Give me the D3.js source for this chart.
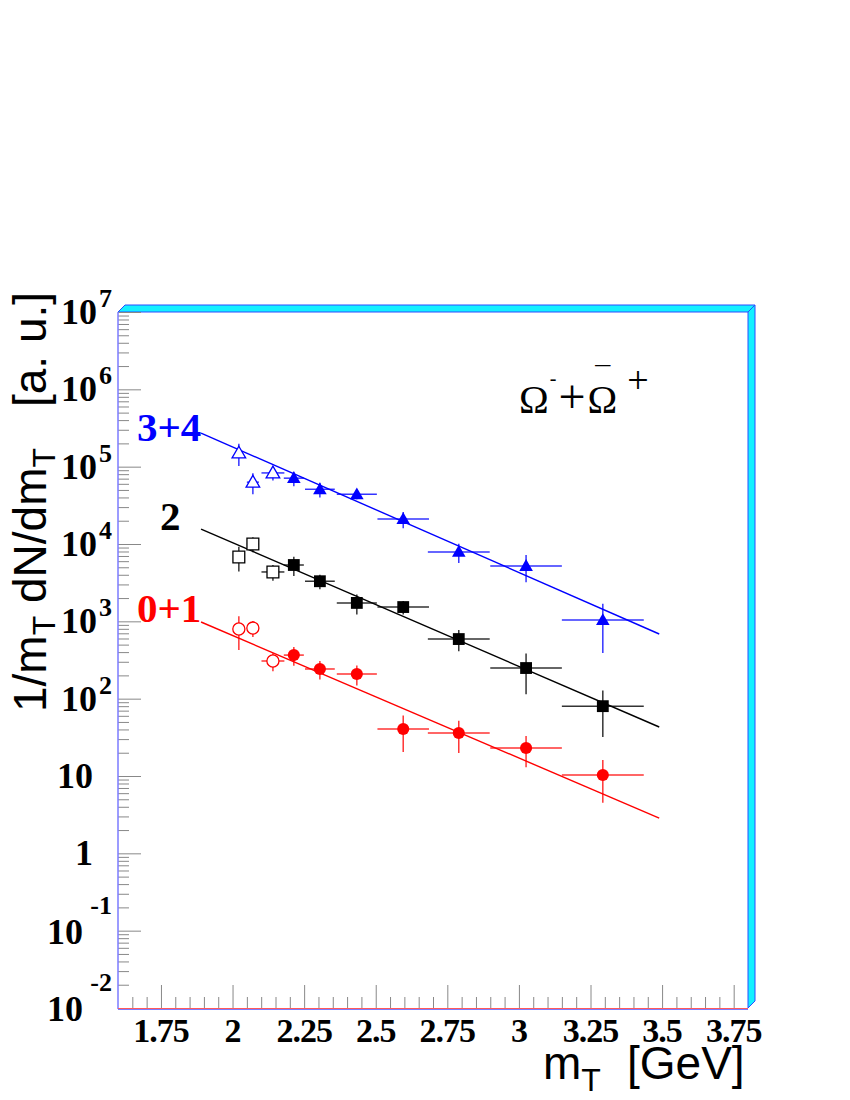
<!DOCTYPE html>
<html>
<head>
<meta charset="utf-8">
<script src="https://cdn.jsdelivr.net/npm/d3@7"></script>
<style>
  html, body { margin: 0; padding: 0; background: #fff; }
  svg { display: block; }
</style>
</head>
<body>
<svg id="chart" width="850" height="1100"></svg>
<script>
// mT bin centres and half widths [GeV]
const mT = [2.022, 2.071, 2.141, 2.214, 2.305, 2.434, 2.596, 2.790, 3.025, 3.293];
const mTErr = [0.012, 0.021, 0.04, 0.035, 0.052, 0.07, 0.09, 0.108, 0.125, 0.143];

// 1/mT dN/dmT for the three centrality classes
const cent34 = [1.50e5, 6.3e4, 8.3e4, 7.1e4, 5.1e4, 4.4e4, 2.1e4, 7.9e3, 5.2e3, 1.04e3];
const cent34Err = [4.8e4, 1.9e4, 1.7e4, 1.5e4, 1.1e4, 6e3, 5e3, 2.2e3, 2.0e3, 650];
const cent2 = [6.8e3, 1.0e4, 4.35e3, 5.35e3, 3.3e3, 1.73e3, 1.53e3, 590, 249, 80];
const cent2Err = [2.4e3, 2.2e3, 1.0e3, 1.5e3, 700, 500, 300, 180, 135, 48];
const cent01 = [796, 819, 307, 366, 242, 208, 40.5, 35.9, 23, 10.3];
const cent01Err = [370, 190, 80, 100, 65, 60, 20, 16, 10, 5.8];

// first three points are drawn with open markers
const openCount = 3;

// exponential fits, drawn as straight lines on the log scale
const fitRange = [1.89, 3.49];
const fit34 = [2.72e5, 686];
const fit2 = [1.56e4, 43];
const fit01 = [980, 2.86];

// axis ticks
const xMajor = [1.75, 2, 2.25, 2.5, 2.75, 3, 3.25, 3.5, 3.75];
const xMajorLabels = ['1.75', '2', '2.25', '2.5', '2.75', '3', '3.25', '3.5', '3.75'];
const yExponents = [-2, -1, 0, 1, 2, 3, 4, 5, 6, 7];

const series = [
    { name: '3+4', values: cent34, errors: cent34Err, fit: fit34, color: '#0000ff', symbol: d3.symbolTriangle, size: 80, labelX: 137, labelY: 441 },
    { name: '2', values: cent2, errors: cent2Err, fit: fit2, color: '#000000', symbol: d3.symbolSquare, size: 140, labelX: 160, labelY: 530 },
    { name: '0+1', values: cent01, errors: cent01Err, fit: fit01, color: '#ff0000', symbol: d3.symbolCircle, size: 115, labelX: 137, labelY: 622 }
];

const svg = d3.select('#chart');

// frame edges in pixels
const frameL = 118, frameR = 748, frameT = 312, frameB = 1008, depth = 7;

const x = d3.scaleLinear().domain([1.6, 3.8]).range([frameL, frameR]);
const y = d3.scaleLog().domain([1e-2, 1e7]).range([frameB, frameT]);

const serif = "'Liberation Serif', 'Times New Roman', serif";
const sans = "'Liberation Sans', Arial, Helvetica, sans-serif";

// 3D looking frame border (top and right)
svg.append('polygon')
    .attr('points', [[frameL, frameT], [frameL + depth, frameT - depth], [frameR + depth, frameT - depth], [frameR, frameT]].join(' '))
    .attr('fill', '#14f0ff')
    .attr('stroke', '#2a4dff')
    .attr('stroke-width', 1);
svg.append('polygon')
    .attr('points', [[frameR, frameT], [frameR + depth, frameT - depth], [frameR + depth, frameB - depth], [frameR, frameB]].join(' '))
    .attr('fill', '#14f0ff')
    .attr('stroke', '#2a4dff')
    .attr('stroke-width', 1);

// x ticks (pointing into the frame)
const xMinor = d3.range(1.65, 3.8, 0.05).filter(v => !xMajor.some(m => Math.abs(m - v) < 1e-6));
svg.append('g')
    .attr('transform', `translate(0,${frameB})`)
    .call(d3.axisBottom(x).tickValues(xMinor).tickSize(-11).tickFormat(''))
    .call(g => g.select('.domain').remove())
    .call(g => g.selectAll('line').attr('stroke', '#888'));
svg.append('g')
    .attr('transform', `translate(0,${frameB})`)
    .call(d3.axisBottom(x).tickValues(xMajor).tickSize(-23).tickFormat(''))
    .call(g => g.select('.domain').remove())
    .call(g => g.selectAll('line').attr('stroke', '#888'));

// y ticks
const yMinor = [];
yExponents.slice(0, -1).forEach(e => {
    for (let k = 2; k <= 9; k++) yMinor.push(k * Math.pow(10, e));
});
svg.append('g')
    .attr('transform', `translate(${frameL},0)`)
    .call(d3.axisLeft(y).tickValues(yMinor).tickSize(-11).tickFormat(''))
    .call(g => g.select('.domain').remove())
    .call(g => g.selectAll('line').attr('stroke', '#888'));
svg.append('g')
    .attr('transform', `translate(${frameL},0)`)
    .call(d3.axisLeft(y).tickValues(yExponents.map(e => Math.pow(10, e))).tickSize(-23).tickFormat(''))
    .call(g => g.select('.domain').remove())
    .call(g => g.selectAll('line').attr('stroke', '#888'));

// frame lines
svg.append('line').attr('x1', frameL).attr('x2', frameL).attr('y1', frameT).attr('y2', frameB + 1)
    .attr('stroke', '#7b7bff').attr('stroke-width', 1.5);
svg.append('line').attr('x1', frameL).attr('x2', frameR).attr('y1', frameB + 1.5).attr('y2', frameB + 1.5)
    .attr('stroke', '#7b7bff').attr('stroke-width', 1);
svg.append('line').attr('x1', frameL).attr('x2', frameR).attr('y1', frameB + 0.5).attr('y2', frameB + 0.5)
    .attr('stroke', '#ff5a5a').attr('stroke-width', 1);

// x tick labels
svg.append('g')
    .selectAll('text')
    .data(xMajor)
    .join('text')
    .attr('x', d => x(d))
    .attr('y', 1042)
    .attr('text-anchor', 'middle')
    .attr('font-family', serif)
    .attr('font-weight', 'bold')
    .attr('font-size', 34)
    .attr('letter-spacing', -1)
    .text((d, i) => xMajorLabels[i]);

// y tick labels, ROOT style 10^n
const yLab = svg.append('g')
    .attr('font-family', serif)
    .attr('font-weight', 'bold')
    .attr('fill', '#000');
yExponents.forEach(e => {
    const ty = y(Math.pow(10, e));
    if (e === 0 || e === 1) {
        yLab.append('text')
            .attr('x', 93).attr('y', ty + 12)
            .attr('text-anchor', 'end')
            .attr('font-size', 36)
            .text(e === 0 ? '1' : '10');
    } else if (e > 1) {
        yLab.append('text')
            .attr('x', 97).attr('y', ty + 12)
            .attr('text-anchor', 'end')
            .attr('font-size', 36)
            .text('10');
        yLab.append('text')
            .attr('x', 99).attr('y', ty - 5)
            .attr('font-size', 26)
            .text(e);
    } else {
        yLab.append('text')
            .attr('x', 83).attr('y', ty + 13)
            .attr('text-anchor', 'end')
            .attr('font-size', 36)
            .text('10');
        yLab.append('text')
            .attr('x', 112).attr('y', ty - 17)
            .attr('text-anchor', 'end')
            .attr('font-size', 26)
            .text(e);
    }
});

// fit lines
const line = d3.line()
    .x(d => x(d[0]))
    .y(d => y(d[1]));
series.forEach(s => {
    svg.append('path')
        .datum(fitRange.map((m, i) => [m, s.fit[i]]))
        .attr('d', line)
        .attr('fill', 'none')
        .attr('stroke', s.color)
        .attr('stroke-width', 1.4);
});

// data points with error bars
series.forEach(s => {
    const pts = s.values.map((v, i) => ({ m: mT[i], dm: mTErr[i], v: v, dv: s.errors[i], open: i < openCount }));
    const g = svg.append('g');

    g.selectAll('line.ex')
        .data(pts)
        .join('line')
        .attr('class', 'ex')
        .attr('x1', d => x(d.m - d.dm))
        .attr('x2', d => x(d.m + d.dm))
        .attr('y1', d => y(d.v))
        .attr('y2', d => y(d.v))
        .attr('stroke', s.color)
        .attr('stroke-opacity', 0.8)
        .attr('stroke-width', 1.5);

    g.selectAll('line.ey')
        .data(pts)
        .join('line')
        .attr('class', 'ey')
        .attr('x1', d => x(d.m))
        .attr('x2', d => x(d.m))
        .attr('y1', d => y(d.v - d.dv))
        .attr('y2', d => y(d.v + d.dv))
        .attr('stroke', s.color)
        .attr('stroke-opacity', 0.8)
        .attr('stroke-width', 1.5);

    g.selectAll('path.mk')
        .data(pts)
        .join('path')
        .attr('class', 'mk')
        .attr('transform', d => `translate(${x(d.m)},${y(d.v) + (s.symbol === d3.symbolTriangle ? 1 : 0)})`)
        .attr('d', d3.symbol().type(s.symbol).size(s.size))
        .attr('fill', d => d.open ? '#fff' : s.color)
        .attr('stroke', s.color)
        .attr('stroke-width', d => d.open ? 1.3 : 0);

    // centrality label
    svg.append('text')
        .attr('x', s.labelX)
        .attr('y', s.labelY)
        .attr('font-family', serif)
        .attr('font-weight', 'bold')
        .attr('font-size', 41)
        .attr('fill', s.color)
        .text(s.name);
});

// particle label: Omega^- + anti-Omega^+ (bar drawn as a macron over the second Omega)
const part = svg.append('text')
    .attr('x', 519)
    .attr('y', 413)
    .attr('font-family', serif)
    .attr('font-size', 40)
    .attr('fill', '#000');
part.append('tspan').text('\u03A9');
part.append('tspan').attr('font-size', 20).attr('dx', 1).attr('dy', -28).text('-');
part.append('tspan').attr('font-size', 48).attr('dx', 2).attr('dy', 28).text('+');
part.append('tspan').attr('dx', 2).text('\u03A9');
part.append('tspan').attr('font-size', 30).attr('dx', -22).attr('dy', -26).text('\u00AF');
part.append('tspan').attr('font-size', 38).attr('dx', 17).attr('dy', 6).text('+');

// axis titles
const xTitle = svg.append('text')
    .attr('x', 543)
    .attr('y', 1079)
    .attr('font-family', sans)
    .attr('font-size', 46);
xTitle.append('tspan').text('m');
xTitle.append('tspan').attr('font-size', 32).attr('dy', 12).text('T');
xTitle.append('tspan').attr('x', 627).attr('dy', -12).text('[GeV]');

const yTitle = svg.append('text')
    .attr('transform', 'translate(46,712) rotate(-90)')
    .attr('font-family', sans)
    .attr('font-size', 46);
yTitle.append('tspan').text('1/m');
yTitle.append('tspan').attr('font-size', 32).attr('dy', 9).text('T');
yTitle.append('tspan').attr('dy', -9).text(' dN/dm');
yTitle.append('tspan').attr('font-size', 32).attr('dy', 9).text('T');
yTitle.append('tspan').attr('x', 305).attr('dy', -9).text('[a. u.]');
</script>
</body>
</html>
